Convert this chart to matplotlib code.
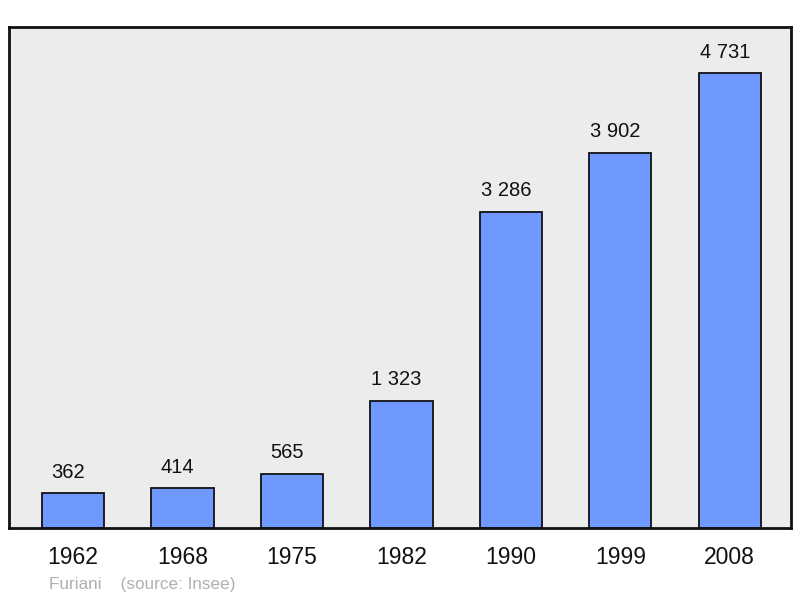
import matplotlib
matplotlib.use("Agg")
import matplotlib.pyplot as plt

years = ["1962", "1968", "1975", "1982", "1990", "1999", "2008"]
population = [362, 414, 565, 1323, 3286, 3902, 4731]
value_labels = ["362", "414", "565", "1 323", "3 286", "3 902", "4 731"]

plt.rcParams['font.family'] = ['Liberation Sans', 'DejaVu Sans']

fig = plt.figure(figsize=(8, 5.98), dpi=100)
ax = fig.add_axes([9/800, 1 - 528/598, 782/800, 501/598])
ax.set_facecolor('#ececec')

x = list(range(len(years)))
ax.bar(x, population, width=0.57, color='#7099ff', edgecolor='#111111', linewidth=1.3, zorder=2)
for xi, v, lab in zip(x, population, value_labels):
    ax.annotate(lab, (xi, v), xytext=(-3.6, 8.3), textcoords='offset points',
                ha='center', va='bottom', fontsize=14.5, color='#111111')

ax.set_xlim(-0.585, 6.56)
ax.set_ylim(0, 5210)
ax.set_xticks(x)
ax.set_xticklabels(years, fontsize=16.5, color='#111111')
ax.tick_params(axis='x', length=0, pad=13)
ax.set_yticks([])
for s in ax.spines.values():
    s.set_linewidth(2)
    s.set_color('#111111')

fig.text(49/800, 1 - 584/598, "Furiani    (source: Insee)", fontsize=12.3, color='#b0b0b0',
         ha='left', va='center')

fig.savefig('out.png', dpi=100)
